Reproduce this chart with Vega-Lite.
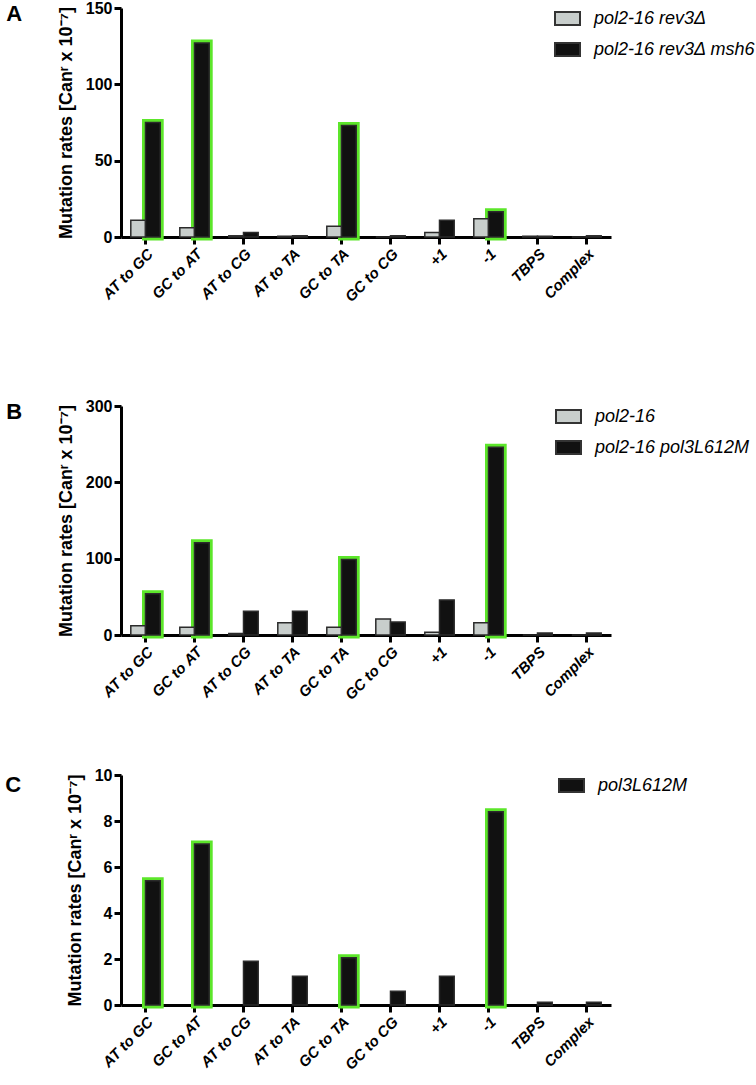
{
  "$schema": "https://vega.github.io/schema/vega-lite/v6.json",
  "padding": {"left": 5, "top": 0, "right": 0, "bottom": 5},
  "datasets": {
    "A": [
      {"cat": "AT to GC", "strain": "pol2-16 rev3Δ", "rate": 11, "sig": false},
      {"cat": "AT to GC", "strain": "pol2-16 rev3Δ msh6", "rate": 75, "sig": true},
      {"cat": "GC to AT", "strain": "pol2-16 rev3Δ", "rate": 6, "sig": false},
      {"cat": "GC to AT", "strain": "pol2-16 rev3Δ msh6", "rate": 127, "sig": true},
      {"cat": "AT to CG", "strain": "pol2-16 rev3Δ", "rate": 0.8, "sig": false},
      {"cat": "AT to CG", "strain": "pol2-16 rev3Δ msh6", "rate": 3, "sig": false},
      {"cat": "AT to TA", "strain": "pol2-16 rev3Δ", "rate": 0.5, "sig": false},
      {"cat": "AT to TA", "strain": "pol2-16 rev3Δ msh6", "rate": 0.8, "sig": false},
      {"cat": "GC to TA", "strain": "pol2-16 rev3Δ", "rate": 7, "sig": false},
      {"cat": "GC to TA", "strain": "pol2-16 rev3Δ msh6", "rate": 73, "sig": true},
      {"cat": "GC to CG", "strain": "pol2-16 rev3Δ", "rate": 0, "sig": false},
      {"cat": "GC to CG", "strain": "pol2-16 rev3Δ msh6", "rate": 0.8, "sig": false},
      {"cat": "+1", "strain": "pol2-16 rev3Δ", "rate": 3, "sig": false},
      {"cat": "+1", "strain": "pol2-16 rev3Δ msh6", "rate": 11, "sig": false},
      {"cat": "-1", "strain": "pol2-16 rev3Δ", "rate": 12, "sig": false},
      {"cat": "-1", "strain": "pol2-16 rev3Δ msh6", "rate": 16.5, "sig": true},
      {"cat": "TBPS", "strain": "pol2-16 rev3Δ", "rate": 0.5, "sig": false},
      {"cat": "TBPS", "strain": "pol2-16 rev3Δ msh6", "rate": 0.5, "sig": false},
      {"cat": "Complex", "strain": "pol2-16 rev3Δ", "rate": 0, "sig": false},
      {"cat": "Complex", "strain": "pol2-16 rev3Δ msh6", "rate": 0.8, "sig": false}
    ],
    "B": [
      {"cat": "AT to GC", "strain": "pol2-16", "rate": 12, "sig": false},
      {"cat": "AT to GC", "strain": "pol2-16 pol3L612M", "rate": 54, "sig": true},
      {"cat": "GC to AT", "strain": "pol2-16", "rate": 10, "sig": false},
      {"cat": "GC to AT", "strain": "pol2-16 pol3L612M", "rate": 121, "sig": true},
      {"cat": "AT to CG", "strain": "pol2-16", "rate": 2, "sig": false},
      {"cat": "AT to CG", "strain": "pol2-16 pol3L612M", "rate": 31, "sig": false},
      {"cat": "AT to TA", "strain": "pol2-16", "rate": 16, "sig": false},
      {"cat": "AT to TA", "strain": "pol2-16 pol3L612M", "rate": 31, "sig": false},
      {"cat": "GC to TA", "strain": "pol2-16", "rate": 10, "sig": false},
      {"cat": "GC to TA", "strain": "pol2-16 pol3L612M", "rate": 99, "sig": true},
      {"cat": "GC to CG", "strain": "pol2-16", "rate": 21, "sig": false},
      {"cat": "GC to CG", "strain": "pol2-16 pol3L612M", "rate": 17, "sig": false},
      {"cat": "+1", "strain": "pol2-16", "rate": 3.5, "sig": false},
      {"cat": "+1", "strain": "pol2-16 pol3L612M", "rate": 46, "sig": false},
      {"cat": "-1", "strain": "pol2-16", "rate": 16, "sig": false},
      {"cat": "-1", "strain": "pol2-16 pol3L612M", "rate": 246, "sig": true},
      {"cat": "TBPS", "strain": "pol2-16", "rate": 0, "sig": false},
      {"cat": "TBPS", "strain": "pol2-16 pol3L612M", "rate": 2.5, "sig": false},
      {"cat": "Complex", "strain": "pol2-16", "rate": 0, "sig": false},
      {"cat": "Complex", "strain": "pol2-16 pol3L612M", "rate": 2.5, "sig": false}
    ],
    "C": [
      {"cat": "AT to GC", "strain": "pol3L612M", "rate": 5.4, "sig": true},
      {"cat": "GC to AT", "strain": "pol3L612M", "rate": 7.0, "sig": true},
      {"cat": "AT to CG", "strain": "pol3L612M", "rate": 1.9, "sig": false},
      {"cat": "AT to TA", "strain": "pol3L612M", "rate": 1.25, "sig": false},
      {"cat": "GC to TA", "strain": "pol3L612M", "rate": 2.05, "sig": true},
      {"cat": "GC to CG", "strain": "pol3L612M", "rate": 0.6, "sig": false},
      {"cat": "+1", "strain": "pol3L612M", "rate": 1.25, "sig": false},
      {"cat": "-1", "strain": "pol3L612M", "rate": 8.4, "sig": true},
      {"cat": "TBPS", "strain": "pol3L612M", "rate": 0.12, "sig": false},
      {"cat": "Complex", "strain": "pol3L612M", "rate": 0.12, "sig": false}
    ]
  },
  "spacing": 93,
  "resolve": {"scale": {"x": "independent", "y": "independent", "xOffset": "independent", "color": "independent"}, "legend": {"color": "independent"}},
  "vconcat": [
    {
      "title": {"text": "A", "dx": -51, "dy": 30},
      "width": 490,
      "height": 229,
      "data": {"name": "A"},
      "encoding": {
        "x": {"field": "cat", "type": "nominal", "sort": ["AT to GC", "GC to AT", "AT to CG", "AT to TA", "GC to TA", "GC to CG", "+1", "-1", "TBPS", "Complex"], "scale": {"paddingInner": 0.4, "paddingOuter": 0.2}},
        "xOffset": {"field": "strain", "type": "nominal", "scale": {"domain": ["pol2-16 rev3Δ", "pol2-16 rev3Δ msh6"]}},
        "y": {"field": "rate", "type": "quantitative", "scale": {"domain": [0, 150]}, "axis": {"values": [0, 50, 100, 150], "title": "Mutation rates [Canʳ x 10⁻⁷]"}}
      },
      "layer": [
        {"transform": [{"filter": "datum.sig"}], "mark": {"type": "bar", "fill": "#111111", "stroke": "#5ce62a", "strokeWidth": 7}},
        {"mark": {"type": "bar", "stroke": "#2b2b2b", "strokeWidth": 1.5},
         "encoding": {"color": {"field": "strain", "type": "nominal", "scale": {"domain": ["pol2-16 rev3Δ", "pol2-16 rev3Δ msh6"], "range": ["#c8cecc", "#111111"]}, "legend": {"orient": "none", "legendX": 433, "legendY": -3, "rowPadding": 7}}}}
      ]
    },
    {
      "spacing": 64,
      "resolve": {"scale": {"x": "independent", "y": "independent", "xOffset": "independent", "color": "independent"}, "legend": {"color": "independent"}},
      "vconcat": [
        {
          "title": {"text": "B", "dx": -51, "dy": 30},
          "width": 490,
          "height": 229,
          "data": {"name": "B"},
          "encoding": {
            "x": {"field": "cat", "type": "nominal", "sort": ["AT to GC", "GC to AT", "AT to CG", "AT to TA", "GC to TA", "GC to CG", "+1", "-1", "TBPS", "Complex"], "scale": {"paddingInner": 0.4, "paddingOuter": 0.2}},
            "xOffset": {"field": "strain", "type": "nominal", "scale": {"domain": ["pol2-16", "pol2-16 pol3L612M"]}},
            "y": {"field": "rate", "type": "quantitative", "scale": {"domain": [0, 300]}, "axis": {"values": [0, 100, 200, 300], "title": "Mutation rates [Canʳ x 10⁻⁷]"}}
          },
          "layer": [
            {"transform": [{"filter": "datum.sig"}], "mark": {"type": "bar", "fill": "#111111", "stroke": "#5ce62a", "strokeWidth": 7}},
            {"mark": {"type": "bar", "stroke": "#2b2b2b", "strokeWidth": 1.5},
             "encoding": {"color": {"field": "strain", "type": "nominal", "scale": {"domain": ["pol2-16", "pol2-16 pol3L612M"], "range": ["#c8cecc", "#111111"]}, "legend": {"orient": "none", "legendX": 434, "legendY": -3, "rowPadding": 7}}}}
          ]
        },
        {
          "title": {"text": "C", "dx": -61, "dy": 34},
          "width": 490,
          "height": 230,
          "data": {"name": "C"},
          "encoding": {
            "x": {"field": "cat", "type": "nominal", "sort": ["AT to GC", "GC to AT", "AT to CG", "AT to TA", "GC to TA", "GC to CG", "+1", "-1", "TBPS", "Complex"], "scale": {"paddingInner": 0.4, "paddingOuter": 0.2}},
            "xOffset": {"field": "strain", "type": "nominal", "scale": {"domain": ["control", "pol3L612M"]}},
            "y": {"field": "rate", "type": "quantitative", "scale": {"domain": [0, 10]}, "axis": {"values": [0, 2, 4, 6, 8, 10], "title": "Mutation rates [Canʳ x 10⁻⁷]"}}
          },
          "layer": [
            {"transform": [{"filter": "datum.sig"}], "mark": {"type": "bar", "fill": "#111111", "stroke": "#5ce62a", "strokeWidth": 7}},
            {"mark": {"type": "bar", "stroke": "#2b2b2b", "strokeWidth": 1.5},
             "encoding": {"color": {"field": "strain", "type": "nominal", "scale": {"domain": ["pol3L612M"], "range": ["#111111"]}, "legend": {"orient": "none", "legendX": 437, "legendY": -3}}}}
          ]
        }
      ]
    }
  ],
  "config": {
    "view": {"stroke": null},
    "font": "Liberation Sans",
    "title": {"fontSize": 22, "fontWeight": "bold", "anchor": "start", "frame": "bounds", "offset": 0, "color": "black", "font": "Liberation Sans"},
    "axis": {"domainColor": "black", "domainWidth": 3, "tickColor": "black", "tickWidth": 3, "tickSize": 7, "grid": false, "labelColor": "black", "titleColor": "black", "zindex": 1},
    "axisX": {"labelAngle": -45, "labelFontSize": 15, "labelFontStyle": "italic", "labelFontWeight": "bold", "labelFont": "Liberation Sans", "labelPadding": 2, "title": null, "labelLimit": 200},
    "axisY": {"labelFontSize": 16, "labelFontWeight": "bold", "labelFont": "Liberation Sans", "titleFontSize": 18, "titleFontWeight": "bold", "titleFont": "Liberation Sans", "titlePadding": 10, "labelPadding": 2},
    "legend": {"title": null, "symbolType": "M-1,-0.52H1V0.52H-1Z", "symbolSize": 625, "symbolStrokeColor": "#333333", "symbolStrokeWidth": 2, "symbolOpacity": 1, "labelFontSize": 18, "labelFontStyle": "italic", "labelFont": "Liberation Sans", "labelColor": "black", "labelOffset": 13, "rowPadding": 6, "padding": 0, "labelLimit": 300}
  }
}
